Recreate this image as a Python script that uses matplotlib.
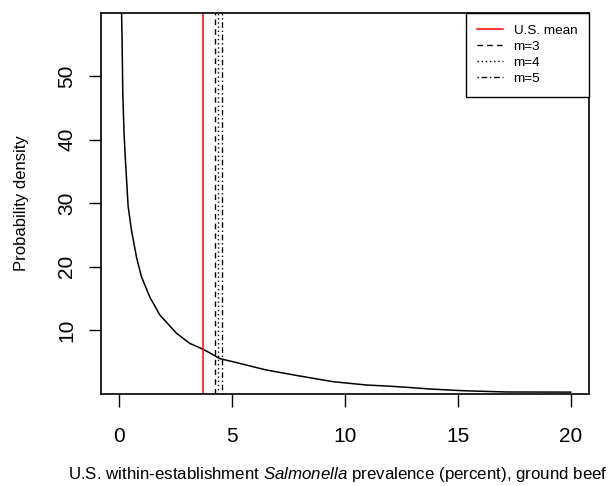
import matplotlib
matplotlib.use("Agg")
import matplotlib.pyplot as plt

plt.rcParams['font.family'] = ['Liberation Sans', 'DejaVu Sans']
plt.rcParams['mathtext.fontset'] = 'custom'
plt.rcParams['mathtext.rm'] = 'Liberation Sans'
plt.rcParams['mathtext.it'] = 'Liberation Sans:italic'

# density curve of within-establishment prevalence (percent)
prev = [0.10, 0.133, 0.164, 0.22, 0.28, 0.35, 0.40, 0.55, 0.77, 0.99, 1.36,
        1.80, 2.54, 3.13, 3.70, 4.02, 4.46, 5.05, 6.53, 8.0, 9.48, 10.96,
        12.0, 12.73, 13.77, 15.24, 17.16, 20.0]
dens = [62.0, 55.7, 47.3, 41.0, 36.8, 32.6, 29.5, 25.7, 21.5, 18.4, 15.2,
        12.4, 9.5, 7.9, 7.0, 6.4, 5.5, 5.0, 3.7, 2.76, 1.86, 1.34,
        1.15, 0.98, 0.71, 0.44, 0.24, 0.22]

us_mean = 3.70
m_labels = ["m=3", "m=4", "m=5"]
m_values = [4.23, 4.37, 4.55]

xticks = [0, 5, 10, 15, 20]
yticks = [10, 20, 30, 40, 50]

fig = plt.figure(figsize=(6.16, 4.86), dpi=100)
ax = fig.add_axes([0.164, 0.1903, 0.7917, 0.7836])

ax.plot(prev, dens, color="black", lw=1.1)
ax.axvline(us_mean, color="red", lw=1.1, label="U.S. mean")
styles = [(0, (4, 3)), (0, (1, 2)), (0, (1, 2, 4, 2))]
for lab, val, ls in zip(m_labels, m_values, styles):
    ax.axvline(val, color="black", lw=1.0, linestyle=ls, label=lab)

ax.set_xlim(-0.8, 20.8)
ax.set_ylim(0, 60)
ax.set_xticks(xticks)
ax.set_yticks(yticks)
ax.tick_params(axis="both", direction="out", length=9, width=1, labelsize=15,
               colors="black")
ax.tick_params(axis="x", pad=15)
ax.tick_params(axis="y", labelrotation=90, pad=9)
for lab in ax.get_yticklabels():
    lab.set_va("center")
for s in ax.spines.values():
    s.set_linewidth(1.2)

ax.set_xlabel(r"U.S. within-establishment $\mathit{Salmonella}$ prevalence (percent), ground beef",
              fontsize=12.2, va="center")
ax.xaxis.set_label_coords(0.486, -0.212)
ax.set_ylabel("Probability density", fontsize=12, labelpad=20)

leg = ax.legend(loc="upper right", bbox_to_anchor=(1, 1), borderaxespad=0,
                fancybox=False, edgecolor="black", framealpha=1, fontsize=9.7,
                handlelength=1.9, handletextpad=0.8, labelspacing=0.28,
                borderpad=0.85)
leg.get_frame().set_linewidth(1.0)

fig.savefig("out.png", dpi=100)
